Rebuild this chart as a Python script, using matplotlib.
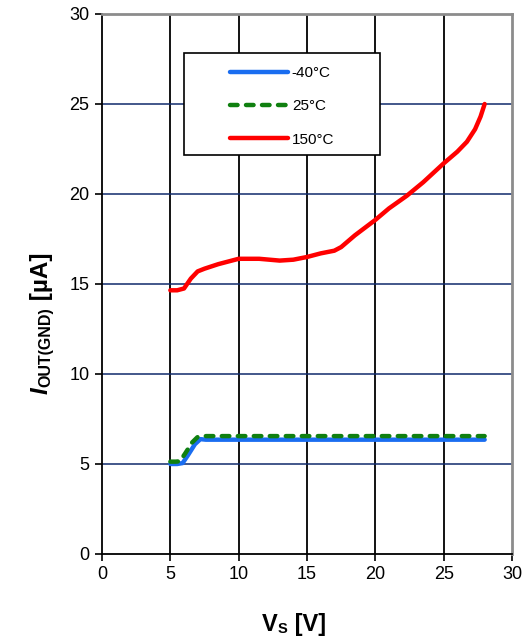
import matplotlib
matplotlib.use("Agg")
import matplotlib.pyplot as plt
from matplotlib.patches import Rectangle
from matplotlib.transforms import IdentityTransform

plt.rcParams['font.family'] = ['Liberation Sans', 'DejaVu Sans']

vs_m40 = [5.0, 5.5, 5.9, 6.3, 6.8, 7.2, 7.6, 10, 15, 20, 25, 28]
i_m40 = [5.0, 5.0, 5.05, 5.5, 6.1, 6.38, 6.35, 6.35, 6.35, 6.35, 6.35, 6.35]

vs_25 = [5.0, 5.4, 5.7, 6.1, 6.6, 7.0, 7.5, 10, 15, 20, 25, 28]
i_25 = [5.13, 5.13, 5.15, 5.6, 6.2, 6.5, 6.55, 6.55, 6.55, 6.55, 6.55, 6.55]

vs_150 = [5.0, 5.5, 6.0, 6.5, 7.0, 7.5, 8.5, 10, 11.5, 13, 14, 15, 16, 17, 17.5,
          18.5, 20, 21, 22.3, 23.5, 25, 26, 26.7, 27.3, 27.7, 28]
i_150 = [14.65, 14.65, 14.75, 15.3, 15.7, 15.85, 16.1, 16.4, 16.4, 16.3, 16.35, 16.5,
         16.7, 16.85, 17.05, 17.7, 18.56, 19.2, 19.9, 20.65, 21.7, 22.35, 22.9, 23.6,
         24.3, 25.0]

x_ticks = [0, 5, 10, 15, 20, 25, 30]
y_ticks = [0, 5, 10, 15, 20, 25, 30]

fig = plt.figure(figsize=(5.25, 6.42), dpi=100)
ax = fig.add_axes([0.1943, 0.1371, 0.7809, 0.8411])

ax.set_xlim(0, 30)
ax.set_ylim(0, 30)
ax.set_xticks(x_ticks)
ax.set_yticks(y_ticks)

for x in x_ticks[1:-1]:
    ax.axvline(x, color='black', lw=1.3, zorder=1)
for y in y_ticks[1:-1]:
    ax.axhline(y, color='#0f2a6b', lw=1.1, zorder=1)

ax.plot(vs_m40, i_m40, color='#1a6df0', lw=3.2, solid_capstyle='round', label='-40°C', zorder=3)
ax.plot(vs_25, i_25, color='#108010', lw=3.2, ls=(0, (1.7, 1.9)), dash_capstyle='round', label='25°C', zorder=4)
ax.plot(vs_150, i_150, color='#ff0000', lw=3.2, solid_capstyle='round', label='150°C', zorder=3)

for s in ['left', 'bottom']:
    ax.spines[s].set_color('black')
    ax.spines[s].set_linewidth(1.3)
for s in ['top', 'right']:
    ax.spines[s].set_color('#8c8c8c')
    ax.spines[s].set_linewidth(2.0)

ax.tick_params(direction='out', length=5, width=1.2, labelsize=13, colors='black', pad=4)

# legend box
ax.add_patch(Rectangle((0.2, 0.739), 0.478, 0.189, transform=ax.transAxes,
                       facecolor='white', edgecolor='black', lw=1.2, zorder=4.5))
leg = ax.legend(loc='upper left', bbox_to_anchor=(0.312, 0.903), frameon=False,
                fontsize=11, handlelength=3.8, labelspacing=1.25,
                borderpad=0, handletextpad=0.25, borderaxespad=0)
leg.set_zorder(5)

renderer = fig.canvas.get_renderer()


def compose(pieces, center, base, vertical):
    """pieces: (text, size, style, baseline shift px)"""
    texts = []
    lengths = []
    for txt, size, style, shift in pieces:
        t = fig.text(0, 0, txt, fontsize=size, fontweight='bold', fontstyle=style,
                     transform=IdentityTransform(), ha='left', va='baseline',
                     rotation=90 if vertical else 0, rotation_mode='anchor')
        bb = t.get_window_extent(renderer)
        texts.append((t, shift))
        lengths.append(bb.height if vertical else bb.width)
    pos = center - sum(lengths) / 2.0
    for (t, shift), ln in zip(texts, lengths):
        if vertical:
            t.set_position((base + shift, pos))
        else:
            t.set_position((pos, base - shift))
        pos += ln


compose([('V', 17, 'normal', 0), ('S', 10.5, 'normal', 2), (' [V]', 17, 'normal', 0)],
        center=294, base=11, vertical=False)
compose([('I', 17.5, 'italic', 0), ('OUT(GND)', 11.5, 'normal', 2), (' [µA]', 17.5, 'normal', 0)],
        center=319, base=48, vertical=True)

fig.savefig('out.png', dpi=100)
